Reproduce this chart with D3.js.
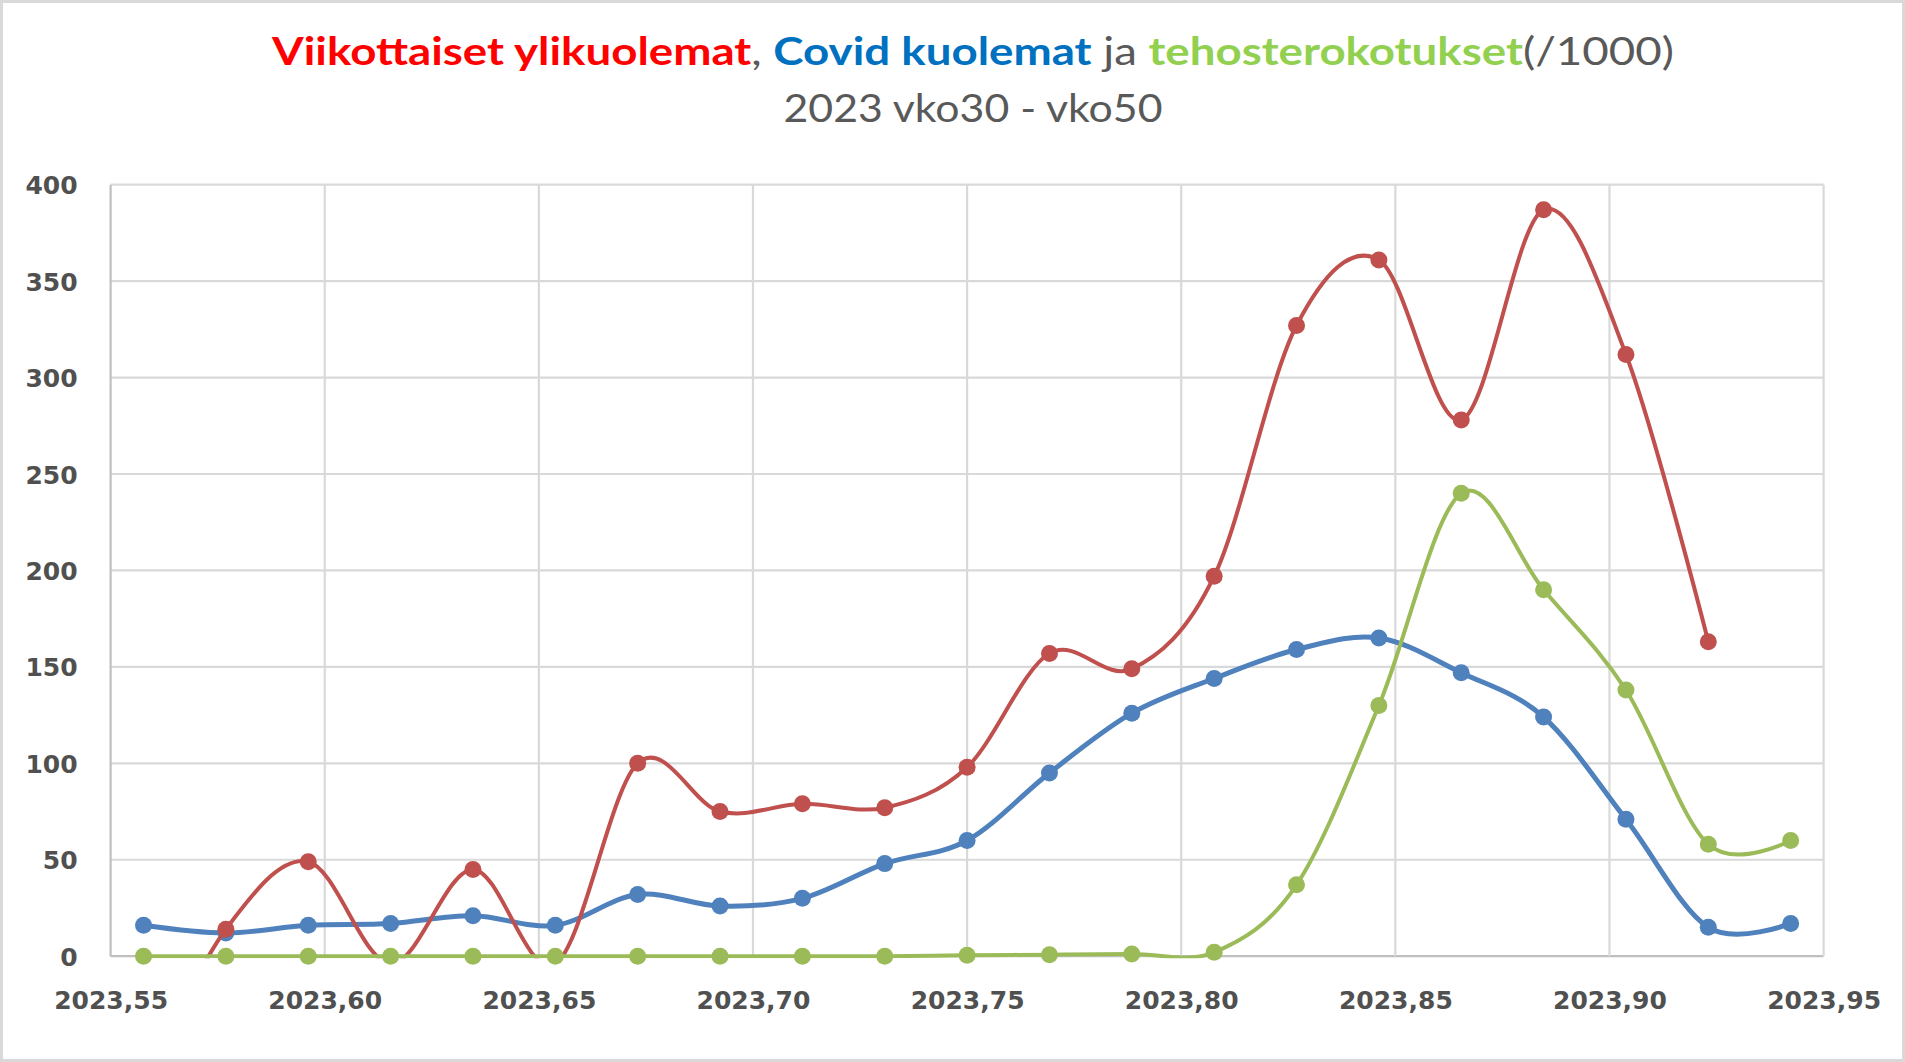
<!DOCTYPE html>
<html>
<head>
<meta charset="utf-8">
<script src="https://cdn.jsdelivr.net/npm/d3@7"></script>
<style>
  html, body { margin: 0; padding: 0; background: #fff; }
  svg { display: block; }
</style>
</head>
<body>
<div id="chart"></div>
<script>
'use strict';

// weeks 30..50 of 2023
var weeks = [30, 31, 32, 33, 34, 35, 36, 37, 38, 39, 40, 41, 42, 43, 44, 45, 46, 47, 48, 49, 50];
// viikottaiset ylikuolemat (null = no value yet)
var excessDeaths = [-65, 14, 49, -4, 45, -4, 100, 75, 79, 77, 98, 157, 149, 197, 327, 361, 278, 387, 312, 163, null];
// covid kuolemat
var covidDeaths = [16, 12, 16, 17, 21, 16, 32, 26, 30, 48, 60, 95, 126, 144, 159, 165, 147, 124, 71, 15, 17];
// tehosterokotukset / 1000
var boosters = [0, 0, 0, 0, 0, 0, 0, 0, 0, 0, 0.5, 0.8, 1.2, 2, 37, 130, 240, 190, 138, 58, 60];

var xTicks = [2023.55, 2023.60, 2023.65, 2023.70, 2023.75, 2023.80, 2023.85, 2023.90, 2023.95];
var yTicks = [0, 50, 100, 150, 200, 250, 300, 350, 400];

var width = 1905;
var height = 1062;
var plot = {left: 110.6, right: 1823.6, top: 184.7, bottom: 956.2};

function weekToYear(w) {
  return 2023 + (w - 1) / 52;
}

var fi = d3.formatLocale({decimal: ',', thousands: ' ', grouping: [3], currency: ['', '€']});
var fmtX = fi.format('.2f');

var x = d3.scaleLinear().domain([2023.55, 2023.95]).range([plot.left, plot.right]);
var y = d3.scaleLinear().domain([0, 400]).range([plot.bottom, plot.top]);

var svg = d3.select('#chart').append('svg').attr('width', width).attr('height', height);

svg.append('rect')
  .attr('x', 1.5).attr('y', 1.5)
  .attr('width', width - 3).attr('height', height - 3)
  .attr('fill', '#fff').attr('stroke', '#d9d9d9').attr('stroke-width', 3);

// title
var title = svg.append('text')
  .attr('x', 973).attr('y', 65)
  .attr('text-anchor', 'middle')
  .attr('font-family', 'Lato, "Open Sans", sans-serif')
  .attr('font-size', 39)
  .attr('fill', '#595959')
  .attr('textLength', 1402)
  .attr('lengthAdjust', 'spacingAndGlyphs');
var parts = [
  {t: 'Viikottaiset ylikuolemat', c: '#ff0000', b: true},
  {t: ', ', c: '#595959', b: false},
  {t: 'Covid kuolemat', c: '#0070c0', b: true},
  {t: ' ja ', c: '#595959', b: false},
  {t: 'tehosterokotukset', c: '#92d050', b: true},
  {t: '(/1000)', c: '#595959', b: false}
];
title.selectAll('tspan').data(parts).enter().append('tspan')
  .attr('fill', function(d) { return d.c; })
  .attr('font-weight', function(d) { return d.b ? 'bold' : 'normal'; })
  .style('white-space', 'pre')
  .text(function(d) { return d.t; });

svg.append('text')
  .attr('x', 973).attr('y', 122)
  .attr('text-anchor', 'middle')
  .attr('font-family', 'Lato, "Open Sans", sans-serif')
  .attr('font-size', 39)
  .attr('fill', '#595959')
  .attr('textLength', 379)
  .attr('lengthAdjust', 'spacingAndGlyphs')
  .text('2023 vko30 - vko50');

// grid
var grid = svg.append('g');
grid.selectAll('line.h').data(yTicks).enter().append('line')
  .attr('class', 'h')
  .attr('x1', plot.left).attr('x2', plot.right)
  .attr('y1', function(d) { return y(d); }).attr('y2', function(d) { return y(d); })
  .attr('stroke', function(d) { return d === 0 ? '#bfbfbf' : '#d9d9d9'; })
  .attr('stroke-width', 2.2);
grid.selectAll('line.v').data(xTicks).enter().append('line')
  .attr('class', 'v')
  .attr('x1', function(d) { return x(d); }).attr('x2', function(d) { return x(d); })
  .attr('y1', plot.top).attr('y2', plot.bottom)
  .attr('stroke', function(d, i) { return i === 0 ? '#bfbfbf' : '#d9d9d9'; })
  .attr('stroke-width', 2.2);

// axes (labels only, Excel style)
var yAxis = svg.append('g')
  .attr('transform', 'translate(' + (plot.left - 33) + ',0)')
  .call(d3.axisLeft(y).tickValues(yTicks).tickSize(0).tickPadding(0));
var xAxis = svg.append('g')
  .attr('transform', 'translate(0,' + (plot.bottom + 35) + ')')
  .call(d3.axisBottom(x).tickValues(xTicks).tickSize(0).tickPadding(0).tickFormat(fmtX));
[yAxis, xAxis].forEach(function(a) {
  a.select('.domain').remove();
  a.selectAll('text')
    .attr('font-family', '"DejaVu Sans", Verdana, sans-serif')
    .attr('font-weight', 'bold')
    .attr('font-size', 25)
    .attr('fill', '#505050');
});
yAxis.selectAll('text').attr('dy', '0.36em');
xAxis.selectAll('text').attr('dy', '0.71em');

// clip the lines to the plot area
svg.append('clipPath').attr('id', 'plotclip')
  .append('rect')
  .attr('x', plot.left - 10).attr('y', plot.top - 10)
  .attr('width', plot.right - plot.left + 20)
  .attr('height', plot.bottom - plot.top + 12);

var series = [
  {name: 'covid', values: covidDeaths, color: '#4f81bd', w: 5},
  {name: 'excess', values: excessDeaths, color: '#c0504d', w: 4},
  {name: 'boost', values: boosters, color: '#9bbb59', w: 4}
];

var line = d3.line()
  .defined(function(d) { return d.v !== null; })
  .x(function(d) { return x(weekToYear(d.w)); })
  .y(function(d) { return y(d.v); })
  .curve(d3.curveCardinal.tension(0));

series.forEach(function(s) {
  var pts = weeks.map(function(w, i) { return {w: w, v: s.values[i]}; });
  var g = svg.append('g').attr('class', 'series-' + s.name);
  g.append('path')
    .datum(pts)
    .attr('d', line)
    .attr('clip-path', 'url(#plotclip)')
    .attr('fill', 'none')
    .attr('stroke', s.color)
    .attr('stroke-width', s.w)
    .attr('stroke-linejoin', 'round');
  g.selectAll('circle')
    .data(pts.filter(function(d) { return d.v !== null && d.v >= 0; }))
    .enter().append('circle')
    .attr('cx', function(d) { return x(weekToYear(d.w)); })
    .attr('cy', function(d) { return y(d.v); })
    .attr('r', 8.5)
    .attr('fill', s.color);
});
</script>
</body>
</html>
